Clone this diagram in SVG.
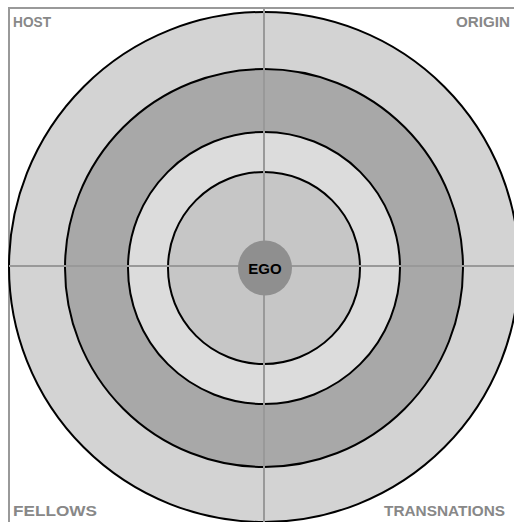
<svg xmlns="http://www.w3.org/2000/svg" width="514" height="522" viewBox="0 0 514 522">
<style>
.ring{stroke:#000;stroke-width:2}
.axis{stroke:#999;stroke-width:2;fill:none}
.lbl{font-family:"Liberation Sans",Arial,sans-serif;font-weight:bold;font-size:15px;fill:#888}
.ego{font-family:"Liberation Sans",Arial,sans-serif;font-weight:bold;font-size:15px;fill:#000}
</style>
<rect x="0" y="0" width="514" height="522" fill="#fff"/>
<g id="frame"><path class="axis" d="M9,522 V8 H514"/></g>
<g id="ring-outer"><circle class="ring" cx="264" cy="267" r="255" fill="#d3d3d3"/></g>
<g id="ring-2"><circle class="ring" cx="264" cy="268" r="199" fill="#a8a8a8"/></g>
<g id="ring-3"><circle class="ring" cx="264" cy="268" r="136" fill="#dcdcdc"/></g>
<g id="ring-4"><circle class="ring" cx="264" cy="268" r="96" fill="#c6c6c6"/></g>
<g id="connectors">
<line class="axis" x1="264" y1="8" x2="264" y2="522"/>
<line class="axis" x1="9" y1="266" x2="514" y2="266"/>
</g>
<g id="ego"><ellipse cx="265" cy="268" rx="27" ry="27.5" fill="#8f8f8f"/><text class="ego" x="265" y="274" text-anchor="middle">EGO</text></g>
<g id="host"><text class="lbl" x="13" y="27" textLength="38" lengthAdjust="spacingAndGlyphs">HOST</text></g>
<g id="origin"><text class="lbl" x="456" y="27" textLength="54" lengthAdjust="spacingAndGlyphs">ORIGIN</text></g>
<g id="fellows"><text class="lbl" x="13" y="516" textLength="84" lengthAdjust="spacingAndGlyphs">FELLOWS</text></g>
<g id="transnations"><text class="lbl" x="384" y="516" textLength="121" lengthAdjust="spacingAndGlyphs">TRANSNATIONS</text></g>
</svg>
